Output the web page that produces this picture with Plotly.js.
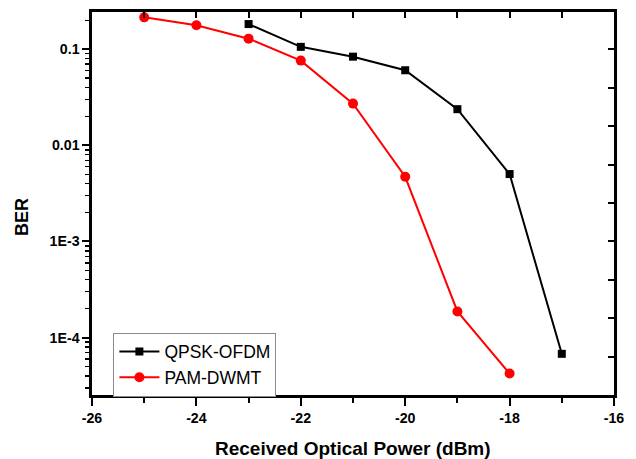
<!DOCTYPE html>
<html>
<head>
<meta charset="utf-8">
<script src="https://cdn.plot.ly/plotly-3.0.1.min.js"></script>
<style>html,body{margin:0;padding:0;background:#fff;}#chart{width:636px;height:459px;}</style>
</head>
<body>
<div id="chart"></div>
<script>
// Received optical power (dBm) and BER
const qpskPower = [-23, -22, -21, -20, -19, -18, -17];
const qpskBER   = [0.183, 0.106, 0.0838, 0.0605, 0.0238, 0.00503, 6.77e-5];
const pamPower  = [-25, -24, -23, -22, -21, -20, -19, -18];
const pamBER    = [0.215, 0.178, 0.129, 0.0762, 0.0272, 0.00471, 1.87e-4, 4.22e-5];

const seriesNames = ['QPSK-OFDM', 'PAM-DWMT'];
const xTitle = 'Received Optical Power (dBm)';
const yTitle = 'BER';
const yTickVals = [0.1, 0.01, 0.001, 0.0001];
const yTickText = ['0.1', '0.01', '1E-3', '1E-4'];
const xTickVals = [-26, -24, -22, -20, -18, -16];
const xTickText = ['-26', '-24', '-22', '-20', '-18', '-16'];

const yRangeLog = [-4.598, -0.612];
const xRange = [-26, -16];

// right-hand inner ticks (every 0.4 decade)
const rightTicks = [];
for (let k = 0; k <= 9; k++) rightTicks.push(Math.pow(10, -1 - 0.4 * k));

const font = 'Liberation Sans, Arial, sans-serif';

const traces = [
  {
    x: qpskPower, y: qpskBER, name: seriesNames[0], mode: 'lines+markers',
    line: {color: '#000000', width: 2},
    marker: {symbol: 'square', size: 8, color: '#000000'}
  },
  {
    x: pamPower, y: pamBER, name: seriesNames[1], mode: 'lines+markers',
    line: {color: '#ff0000', width: 2},
    marker: {symbol: 'circle', size: 10, color: '#ff0000'}
  },
  {x: [], y: [], xaxis: 'x2', yaxis: 'y2', mode: 'lines', showlegend: false, hoverinfo: 'skip'}
];

const layout = {
  width: 636, height: 459,
  margin: {l: 92, r: 22, t: 12, b: 64},
  font: {family: font, color: '#000000'},
  showlegend: true,
  legend: {
    x: 0.041, y: 0.163, xanchor: 'left', yanchor: 'top',
    bgcolor: '#ffffff', bordercolor: '#8a8a8a', borderwidth: 1,
    itemwidth: 40,
    font: {family: font, size: 17.5, color: '#000000'}
  },
  annotations: [
    {text: xTitle, xref: 'paper', yref: 'paper', x: 0.5, y: -0.1395, xanchor: 'center', yanchor: 'middle',
     showarrow: false, font: {family: font, size: 19, color: '#000000', weight: 'bold'}},
    {text: yTitle, xref: 'paper', yref: 'paper', x: -0.1354, y: 0.4655, xanchor: 'center', yanchor: 'middle',
     textangle: -90, showarrow: false, font: {family: font, size: 18, color: '#000000', weight: 'bold'}}
  ],
  xaxis: {
    range: xRange, showgrid: false, zeroline: false,
    showline: true, linewidth: 2.5, linecolor: '#000000',
    tickmode: 'array', tickvals: xTickVals, ticktext: xTickText,
    ticks: 'outside', ticklen: 8, tickwidth: 2, tickcolor: '#000000',
    tickfont: {family: font, size: 14, color: '#000000', weight: 'bold'},
    minor: {tickmode: 'linear', tick0: -25, dtick: 2, ticks: 'outside', ticklen: 5, tickwidth: 2, tickcolor: '#000000', showgrid: false}
  },
  xaxis2: {
    range: xRange, overlaying: 'x', side: 'top', anchor: 'y2',
    showgrid: false, zeroline: false,
    showline: true, linewidth: 2.5, linecolor: '#000000',
    tickmode: 'linear', tick0: -26, dtick: 1,
    ticks: 'inside', ticklen: 6, tickwidth: 2, tickcolor: '#000000',
    showticklabels: false
  },
  yaxis: {
    type: 'log', range: yRangeLog, showgrid: false, zeroline: false,
    showline: true, linewidth: 2.5, linecolor: '#000000',
    tickmode: 'array', tickvals: yTickVals, ticktext: yTickText,
    ticks: 'outside', ticklen: 7, tickwidth: 2, tickcolor: '#000000',
    tickfont: {family: font, size: 14, color: '#000000', weight: 'bold'},
    minor: {dtick: 'D1', ticks: 'outside', ticklen: 4, tickwidth: 1.5, tickcolor: '#000000', showgrid: false}
  },
  yaxis2: {
    type: 'log', range: yRangeLog, overlaying: 'y', side: 'right', anchor: 'x2',
    showgrid: false, zeroline: false,
    showline: true, linewidth: 2.5, linecolor: '#000000',
    tickmode: 'array', tickvals: rightTicks,
    ticks: 'inside', ticklen: 6, tickwidth: 2, tickcolor: '#000000',
    showticklabels: false
  }
};

const config = {displayModeBar: false, staticPlot: true};
Plotly.newPlot('chart', traces, layout, config).then(function (gd) {
  // a real margin change forces a complete second drawing pass
  return Plotly.relayout(gd, {
    'margin.b': 63.5,
    'xaxis.linewidth': 2.6, 'yaxis.linewidth': 2.6,
    'xaxis2.linewidth': 2.6, 'yaxis2.linewidth': 2.6,
    'xaxis.tickfont.size': 14.2, 'yaxis.tickfont.size': 14.2
  });
});
</script>
</body>
</html>
